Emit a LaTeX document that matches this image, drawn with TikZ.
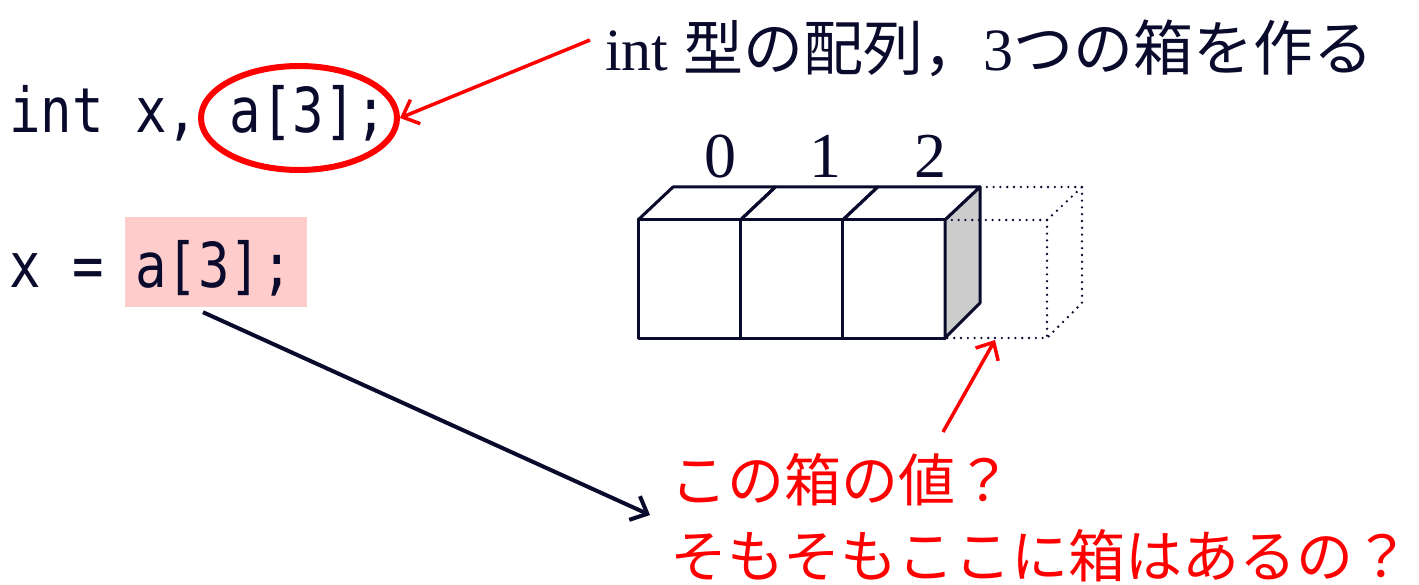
\documentclass[tikz,border=0pt]{standalone}
\usepackage{fontspec}
\setmainfont{Liberation Serif}
\newfontfamily\jp{Noto Sans CJK JP}
\newfontfamily\codefont[FakeStretch=0.844]{DejaVu Sans Mono}
\usetikzlibrary{arrows.meta,shapes.geometric}
\definecolor{navy}{RGB}{10,10,45}
\definecolor{hlpink}{RGB}{255,204,204}
\definecolor{sidegray}{RGB}{204,204,204}
\begin{document}
\begin{tikzpicture}[x=1pt, y=-1pt,
		code/.style={font=\codefont\fontsize{62}{70}\selectfont, text=navy, inner sep=0pt, anchor=base west},
		face/.style={draw=navy, line width=3pt, line join=round},
		ghost/.style={draw=navy, line width=2.6pt, line cap=round, dash pattern=on 0pt off 6.8pt},
		pointer/.style={-{Straight Barb[length=14pt,width=26pt]}, line width=3.5pt}]
	\useasboundingbox (0,0) rectangle (1419,585);
	
	%code lines
	\node[fill=hlpink, minimum width=182pt, minimum height=90pt, inner sep=0pt] (hl) at (216,262) {};
	\node[code] (decl) at (9,133) {int x, a[3];};
	\node[code] (assign) at (9,288) {x = a[3];};
	\node[draw=red, line width=6pt, ellipse, minimum width=196pt, minimum height=104pt, inner sep=0pt] (circ) at (299,118) {};
	
	%label
	\node[anchor=base west, inner sep=0pt, text=navy, font=\fontsize{60}{70}\selectfont] (lbl) at (605,71) {int {\jp 型の配列，}3{\jp つの箱を作る}};
	\coordinate (lblpt) at (590,40);
	\draw[pointer, red] (lblpt) -- (circ.east);
	
	%boxes
	\foreach \x in {638, 740.33, 842.67}{
		\draw[face] (\x,220) rectangle ++(102.33,118);
		\draw[face] (\x,220) -- ++(35,-33) -- ++(102.33,0) -- ++(-35,33);
	}
	\draw[face, fill=sidegray] (945,220) -- (980,187) -- (980,303) -- (945,338) -- cycle;
	\foreach \i in {0,1,2}{
		\node[anchor=base, inner sep=0pt, text=navy, font=\fontsize{64}{70}\selectfont] (idx\i) at (720+105*\i,178) {\i};
	}
	
	%missing box
	\draw[ghost] (945,220) -- (1047,220) -- (1047,338) -- (945,338);
	\draw[ghost] (980,187) -- (1082,187) -- (1082,303) -- (1047,338);
	\draw[ghost] (1047,220) -- (1082,187);
	\coordinate (gone) at (995,340);
	
	%question
	\node[anchor=base west, inner sep=0pt, text=red, font=\jp\fontsize{57}{70}\selectfont] (q1) at (670,501) {この箱の値？};
	\node[anchor=base west, inner sep=0pt, text=red, font=\jp\fontsize{57}{70}\selectfont] (q2) at (670,577) {そもそもここに箱はあるの？};
	\coordinate (qtop) at (943,432);
	\coordinate (qpt) at (650,515);
	\draw[pointer, red] (qtop) -- (gone);
	\draw[pointer, navy, line width=4pt] ([xshift=-13pt,yshift=-5pt]hl.south) -- (qpt);
\end{tikzpicture}
\end{document}
